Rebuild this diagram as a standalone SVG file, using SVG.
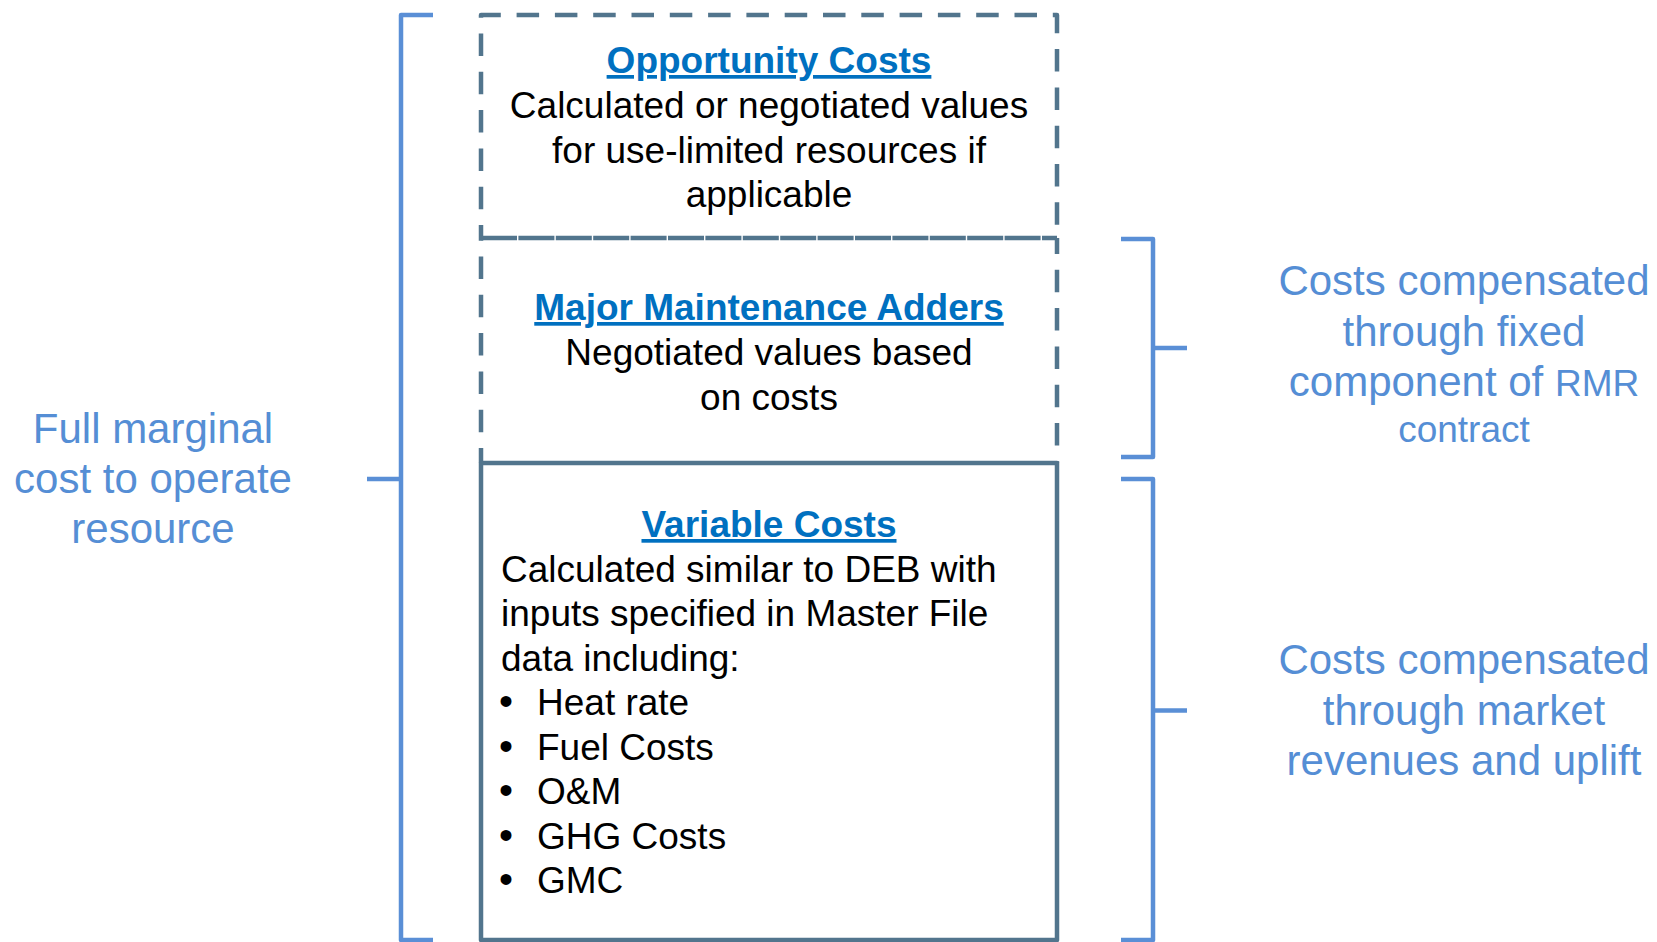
<svg xmlns="http://www.w3.org/2000/svg" width="1657" height="942" viewBox="0 0 1657 942">
  <style>
    .bg { fill: #ffffff; }
    .edge { fill: none; stroke: #52758D; stroke-width: 4.5; stroke-linejoin: round; }
    .dash { stroke-dasharray: 22.5 15.8; }
    .seam { stroke-dasharray: 36 1.4; }
    .brace { fill: none; stroke: #5A8FD6; stroke-width: 4.5; stroke-linejoin: round; }
    .title { font-family: "Liberation Sans", Arial, sans-serif; font-size: 37px; font-weight: bold; fill: #0070C0; text-anchor: middle; text-decoration: underline; }
    .body { font-family: "Liberation Sans", Arial, sans-serif; font-size: 37px; fill: #000000; }
    .mid { text-anchor: middle; }
    .dot { font-size: 40px; }
    .note { font-family: "Liberation Sans", Arial, sans-serif; font-size: 42px; fill: #558ED5; text-anchor: middle; }
    .small { font-size: 37px; }
  </style>

  <rect class="bg" x="0" y="0" width="1657" height="942"/>

  <!-- Brackets joining the cost blocks to their explanations -->
  <g id="connectors">
    <path class="brace" d="M433,15 H401 V940 H433"/>
    <path class="brace" d="M367,479 H401"/>
    <path class="brace" d="M1121,239 H1153 V457 H1121"/>
    <path class="brace" d="M1153,348 H1187"/>
    <path class="brace" d="M1121,479 H1153 V940 H1121"/>
    <path class="brace" d="M1153,710.5 H1187"/>
  </g>

  <!-- Top block: opportunity costs -->
  <g id="opportunity-costs">
    <path class="edge dash" stroke-dashoffset="9.5" d="M481,238 V15 H1057 V238"/>
    <text class="title" x="769" y="73">Opportunity Costs</text>
    <text class="body mid" x="769" y="118">Calculated or negotiated values</text>
    <text class="body mid" x="769" y="162.5">for use-limited resources if</text>
    <text class="body mid" x="769" y="207">applicable</text>
  </g>

  <!-- Middle block: major maintenance adders -->
  <g id="major-maintenance-adders">
    <path class="edge seam" d="M481,238 H1057"/>
    <path class="edge dash" stroke-dashoffset="7.5" d="M481,463 V238"/>
    <path class="edge dash" stroke-dashoffset="6.5" d="M1057,238 V463"/>
    <text class="title" x="769" y="320">Major Maintenance Adders</text>
    <text class="body mid" x="769" y="365">Negotiated values based</text>
    <text class="body mid" x="769" y="409.5">on costs</text>
  </g>

  <!-- Bottom block: variable costs -->
  <g id="variable-costs">
    <rect class="edge" x="481" y="463" width="576" height="477"/>
    <text class="title" x="769" y="537">Variable Costs</text>
    <text class="body" x="501" y="581.5">Calculated similar to DEB with</text>
    <text class="body" x="501" y="626">inputs specified in Master File</text>
    <text class="body" x="501" y="670.5">data including:</text>
    <text class="body" x="499" y="715"><tspan class="dot">•</tspan><tspan x="537">Heat rate</tspan></text>
    <text class="body" x="499" y="759.5"><tspan class="dot">•</tspan><tspan x="537">Fuel Costs</tspan></text>
    <text class="body" x="499" y="804"><tspan class="dot">•</tspan><tspan x="537">O&amp;M</tspan></text>
    <text class="body" x="499" y="848.5"><tspan class="dot">•</tspan><tspan x="537">GHG Costs</tspan></text>
    <text class="body" x="499" y="893"><tspan class="dot">•</tspan><tspan x="537">GMC</tspan></text>
  </g>

  <!-- Explanatory labels -->
  <g id="full-marginal-cost">
    <text class="note" x="153" y="443">Full marginal</text>
    <text class="note" x="153" y="493">cost to operate</text>
    <text class="note" x="153" y="543">resource</text>
  </g>

  <g id="fixed-component">
    <text class="note" x="1464" y="295">Costs compensated</text>
    <text class="note" x="1464" y="345.5">through fixed</text>
    <text class="note" x="1464" y="396">component of <tspan class="small">RMR</tspan></text>
    <text class="note small" x="1464" y="442">contract</text>
  </g>

  <g id="market-revenues">
    <text class="note" x="1464" y="674">Costs compensated</text>
    <text class="note" x="1464" y="724.5">through market</text>
    <text class="note" x="1464" y="775">revenues and uplift</text>
  </g>
</svg>
